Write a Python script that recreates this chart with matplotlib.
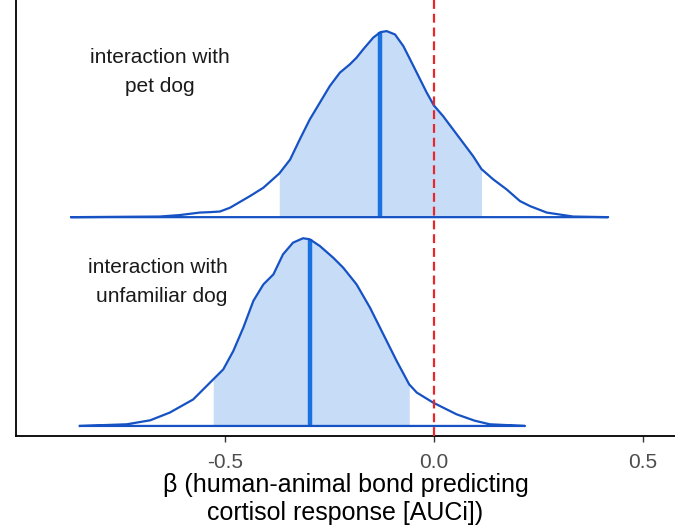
import numpy as np
import matplotlib
matplotlib.use("Agg")
import matplotlib.pyplot as plt

plt.rcParams['font.family'] = ['Liberation Sans', 'DejaVu Sans']

# posterior density for "interaction with pet dog" (height scaled to ridge spacing)
pet_x = [-0.867, -0.656, -0.608, -0.560, -0.536, -0.512, -0.488, -0.440, -0.408,
         -0.370, -0.344, -0.321, -0.297, -0.273, -0.249, -0.225, -0.201, -0.185,
         -0.169, -0.145, -0.128, -0.113, -0.093, -0.073, -0.053, -0.033, -0.017,
         0.0, 0.022, 0.046, 0.070, 0.094, 0.114, 0.142, 0.174, 0.206, 0.230,
         0.270, 0.333, 0.417]
pet_d = [0.0, 0.003, 0.010, 0.022, 0.024, 0.027, 0.045, 0.101, 0.141,
         0.209, 0.276, 0.372, 0.468, 0.548, 0.628, 0.692, 0.732, 0.764,
         0.804, 0.860, 0.886, 0.891, 0.875, 0.819, 0.740, 0.660, 0.596,
         0.535, 0.484, 0.420, 0.356, 0.292, 0.230, 0.181, 0.133, 0.077, 0.053,
         0.022, 0.003, 0.0]
pet_median = -0.128
pet_ci = [-0.370, 0.114]

# posterior density for "interaction with unfamiliar dog"
unf_x = [-0.847, -0.735, -0.679, -0.632, -0.576, -0.528, -0.504, -0.480, -0.456,
         -0.432, -0.408, -0.384, -0.361, -0.337, -0.313, -0.297, -0.273, -0.241,
         -0.217, -0.185, -0.153, -0.121, -0.089, -0.059, -0.041, -0.002, 0.038,
         0.054, 0.098, 0.134, 0.218]
unf_d = [0.0, 0.008, 0.027, 0.064, 0.127, 0.223, 0.271, 0.359, 0.471,
         0.599, 0.678, 0.726, 0.822, 0.878, 0.899, 0.894, 0.862, 0.806,
         0.758, 0.678, 0.567, 0.439, 0.311, 0.199, 0.160, 0.112, 0.072,
         0.056, 0.025, 0.008, 0.0]
unf_median = -0.297
unf_ci = [-0.528, -0.059]

labels = ["interaction with\nunfamiliar dog", "interaction with\npet dog"]
xticks = [-0.5, 0.0, 0.5]

line_col = "#1652c4"
med_col = "#1a72e0"
fill_col = "#c6dcf7"


def draw_ridge(ax, x, d, base, med, ci):
    x = np.array(x)
    y = base + np.array(d)
    inside = (x >= ci[0] - 1e-9) & (x <= ci[1] + 1e-9)
    ax.fill_between(x, base, y, where=inside, color=fill_col, lw=0, zorder=1)
    h = np.interp(med, x, y)
    ax.plot([med, med], [base, h], color=med_col, lw=3.2, solid_capstyle='butt', zorder=2)
    ax.plot(np.r_[x, x[::-1]], np.r_[y, np.full(len(x), base)], color=line_col,
            lw=1.6, zorder=3, solid_joinstyle='round')


fig = plt.figure(figsize=(6.75, 5.3), dpi=100)
ax = fig.add_axes([0.0237, 0.1774, 0.9763, 0.8226])

draw_ridge(ax, unf_x, unf_d, 0.0, unf_median, unf_ci)
draw_ridge(ax, pet_x, pet_d, 1.0, pet_median, pet_ci)

ax.axvline(0, color="#e8262b", lw=1.6, ls=(0, (4, 2.2)), zorder=4)

ax.text(-0.655, 1.694, labels[1], ha='center', va='center', fontsize=15,
        color="#1a1a1a", linespacing=1.65)
ax.text(-0.493, 0.691, labels[0], ha='right', va='center', multialignment='right',
        fontsize=15, color="#1a1a1a", linespacing=1.65)

ax.set_xlim(-1.0, 0.577)
ax.set_ylim(-0.048, 2.04)
ax.set_xticks(xticks)
ax.set_xticklabels(["-0.5", "0.0", "0.5"])
ax.set_yticks([])
ax.tick_params(axis='x', length=4, width=1.0, color="#333333", labelcolor="#4d4d4d",
               labelsize=15, pad=8)
for s in ['top', 'right']:
    ax.spines[s].set_visible(False)
for s in ['left', 'bottom']:
    ax.spines[s].set_linewidth(1.3)
    ax.spines[s].set_color("black")
ax.set_xlabel("β (human-animal bond predicting\ncortisol response [AUCi])",
              fontsize=18, color="black", linespacing=1.2, labelpad=1)

fig.savefig("out.png", dpi=100)
